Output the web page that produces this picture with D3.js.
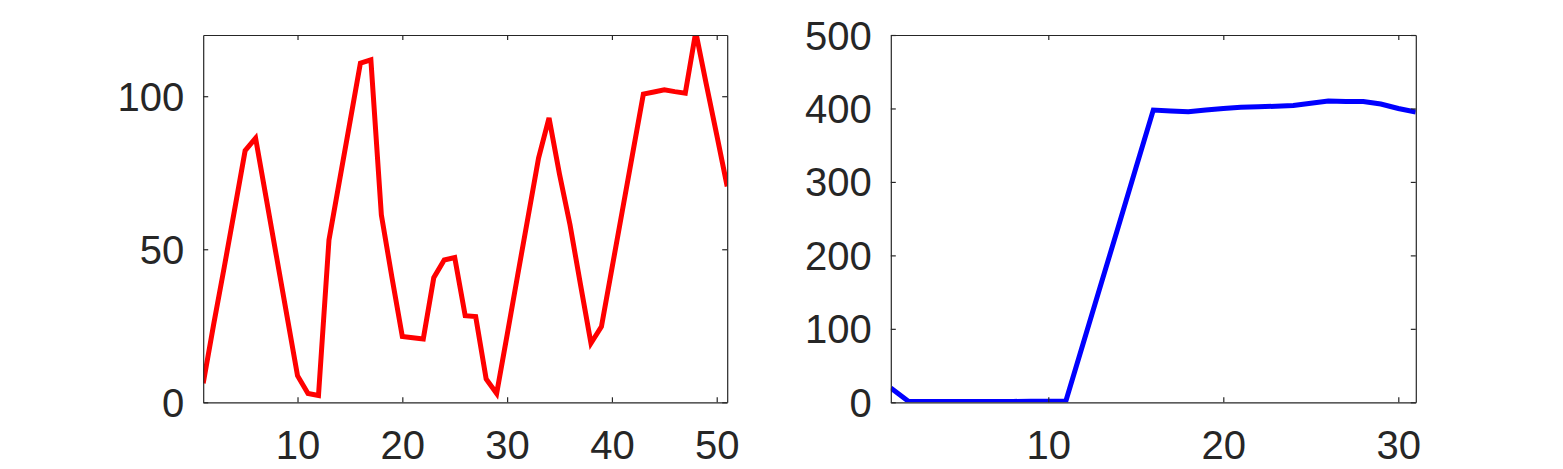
<!DOCTYPE html>
<html><head><meta charset="utf-8">
<script src="https://cdn.jsdelivr.net/npm/d3@7"></script>
<style>body{margin:0;background:#fff}svg{display:block}</style>
</head><body>
<svg id="c" width="1563" height="469"></svg>
<script>
// Left panel (red) series, x = 1..51
const leftValues = [6.2,25.5,44,63,82.2,86.3,66.9,47.5,28.1,8.7,
  2.9,2.2,53,72.3,91.5,110.8,111.9,61.2,41,21.5,
  21.1,20.7,40.7,46.5,47.3,28.3,28,7.6,2.9,22,
  41.4,60.6,79.8,92.9,74.5,58,38.5,19.3,24.7,43.7,
  62.7,81.7,100.7,101.4,102.1,101.5,101,121,104,87.4,70.5];
// Right panel (blue) series, x = 1..31
const rightValues = [19.5,1.5,1,1,1,1,1,1.2,1.5,1.5,
  1.5,80.8,160,239,318.5,397.8,396.5,395.5,398,400,
  401.5,402.4,403,404,407,410,409.5,409.5,406,400,395];
const leftXTicks = [10,20,30,40,50];
const leftYTicks = [0,50,100];
const rightXTicks = [10,20,30];
const rightYTicks = [0,100,200,300,400,500];

const svg = d3.select("#c");
const axisColor = "#262626";
const fontFamily = "'Liberation Sans', Arial, Helvetica, sans-serif";
const fontSize = 40;

function panel(cfg){
  const {x0,x1,y0,y1,xDomain,yDomain,values,xTicks,yTicks,color,id} = cfg;
  const x = d3.scaleLinear().domain(xDomain).range([x0,x1]);
  const y = d3.scaleLinear().domain(yDomain).range([y1,y0]);
  const g = svg.append("g");
  g.append("clipPath").attr("id",id).append("rect")
    .attr("x",x0).attr("y",y0).attr("width",x1-x0).attr("height",y1-y0);
  const line = d3.line().x((d,i)=>x(i+1)).y(d=>y(d));
  g.append("path").datum(values).attr("d",line)
    .attr("clip-path",`url(#${id})`)
    .attr("fill","none").attr("stroke",color).attr("stroke-width",5)
    .attr("stroke-linejoin","miter").attr("stroke-linecap","butt");
  const tl = 5;
  const bottom = g.append("g").attr("transform",`translate(0,${y1})`)
    .call(d3.axisBottom(x).tickValues(xTicks).tickSizeInner(-tl).tickSizeOuter(0).tickPadding(28));
  const top = g.append("g").attr("transform",`translate(0,${y0})`)
    .call(d3.axisTop(x).tickValues(xTicks).tickSizeInner(-tl).tickSizeOuter(0).tickFormat(""));
  const left = g.append("g").attr("transform",`translate(${x0},0)`)
    .call(d3.axisLeft(y).tickValues(yTicks).tickSizeInner(-tl).tickSizeOuter(0).tickPadding(19));
  const right = g.append("g").attr("transform",`translate(${x1},0)`)
    .call(d3.axisRight(y).tickValues(yTicks).tickSizeInner(-tl).tickSizeOuter(0).tickFormat(""));
  [bottom,top,left,right].forEach(a=>{
    a.selectAll("path").attr("stroke",axisColor).attr("stroke-width",1.2);
    a.selectAll("line").attr("stroke",axisColor).attr("stroke-width",1.2);
    a.selectAll("text").attr("fill",axisColor).style("font-family",fontFamily).style("font-size",fontSize+"px");
  });
  bottom.selectAll("text").attr("dy","0.71em");
  left.selectAll("text").attr("dy","0.35em");
}

panel({id:"clipL",x0:203.2,x1:727.2,y0:35,y1:402.3,xDomain:[1,51],yDomain:[0,120],
  values:leftValues,xTicks:leftXTicks,yTicks:leftYTicks,color:"#ff0000"});
panel({id:"clipR",x0:890.8,x1:1415.8,y0:35,y1:402.3,xDomain:[1,31],yDomain:[0,500],
  values:rightValues,xTicks:rightXTicks,yTicks:rightYTicks,color:"#0000ff"});
</script>
</body></html>
